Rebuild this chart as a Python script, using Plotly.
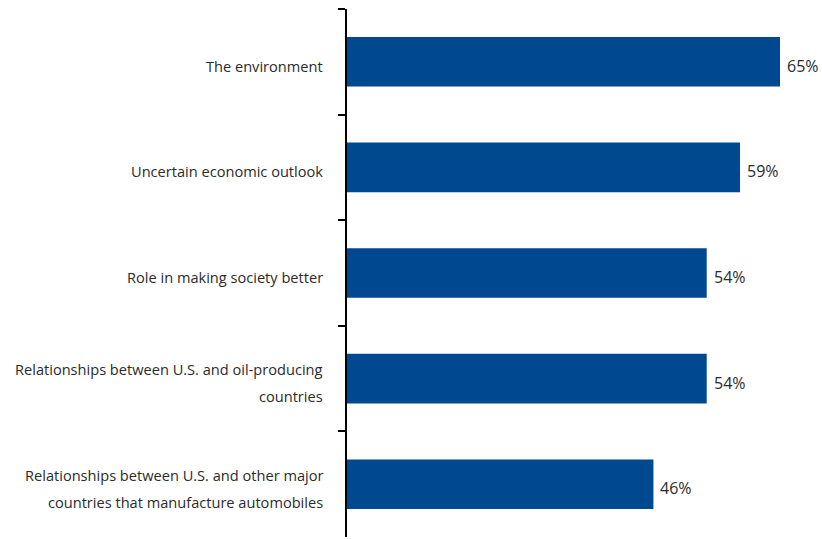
import plotly.graph_objects as go

# Share of respondents citing each factor (%)
categories = [
    "The environment",
    "Uncertain economic outlook",
    "Role in making society better",
    "Relationships between U.S. and oil-producing<br>countries",
    "Relationships between U.S. and other major<br>countries that manufacture automobiles",
]
values = [65, 59, 54, 54, 46]

BAR_COLOR = "#004890"
TEXT_COLOR = "#2b2b2b"
FONT = "Open Sans, Noto Sans, sans-serif"

fig = go.Figure(
    go.Bar(
        x=values,
        y=categories,
        orientation="h",
        marker=dict(color=BAR_COLOR, line=dict(width=0)),
        width=0.47,
        hoverinfo="x+y",
    )
)

# Value labels just past the end of each bar
for cat, v in zip(categories, values):
    fig.add_annotation(
        x=v, xref="x", xanchor="left", xshift=5,
        y=cat, yref="y", yshift=-4, yanchor="middle",
        text=f"{v}%", showarrow=False,
        font=dict(family=FONT, size=16, color=TEXT_COLOR),
    )

# Category labels drawn line by line for roomier line spacing
line_gap = 27
for cat in categories:
    lines = cat.split("<br>")
    n = len(lines)
    for i, ln in enumerate(lines):
        offset = ((n - 1) / 2 - i) * line_gap - 4
        fig.add_annotation(
            x=0, xref="paper", xanchor="right", xshift=-22,
            y=cat, yref="y", yshift=offset, yanchor="middle",
            text=ln, showarrow=False,
            font=dict(family=FONT, size=14.6, color=TEXT_COLOR),
        )

fig.update_layout(
    width=822, height=539,
    margin=dict(l=347, r=42, t=9, b=2),
    paper_bgcolor="white", plot_bgcolor="white",
    showlegend=False,
    xaxis=dict(range=[0, 65], visible=False, fixedrange=True),
    yaxis=dict(
        type="category",
        categoryorder="array", categoryarray=categories,
        range=[4.5, -0.5],
        showticklabels=False,
        showline=True, linecolor="black", linewidth=2,
        ticks="outside", ticklen=7, tickwidth=2, tickcolor="black",
        tickson="boundaries",
        showgrid=False, zeroline=False,
    ),
)

fig.write_html("out.html")
